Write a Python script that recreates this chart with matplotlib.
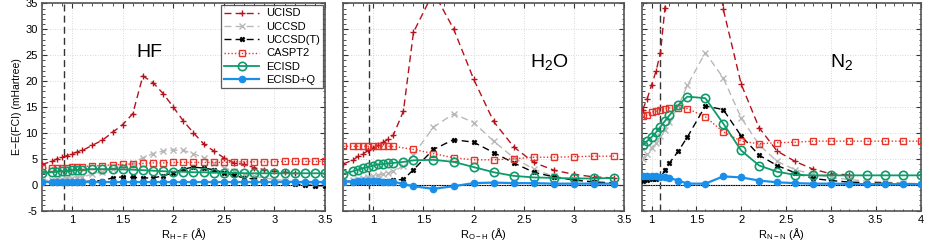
import matplotlib
matplotlib.use("Agg")
import matplotlib.pyplot as plt
from matplotlib.ticker import MultipleLocator, AutoMinorLocator, FormatStrFormatter

plt.rcParams["font.family"] = ["Liberation Sans", "DejaVu Sans"]
plt.rcParams["mathtext.fontset"] = "custom"
plt.rcParams["mathtext.rm"] = "Liberation Sans"
plt.rcParams["axes.unicode_minus"] = False

# ── data: HF ──────────────────────────────────────────────────────────────────
HF_X = [0.7, 0.8, 0.85, 0.9, 0.95, 1.0, 1.05, 1.1, 1.2, 1.3, 1.4, 1.5, 1.6,
        1.7, 1.8, 1.9, 2.0, 2.1, 2.2, 2.3, 2.4, 2.5, 2.6, 2.7, 2.8, 2.9, 3.0,
        3.1, 3.2, 3.3, 3.4, 3.5]
HF_UCISD = [3.9, 4.5, 5.0, 5.3, 5.6, 6.0, 6.3, 6.6, 7.6, 8.6, 10.1, 11.6, 13.7,
            21.0, 19.7, 17.6, 15.0, 12.3, 10.0, 7.9, 6.5, 5.2, 4.2, 3.9, 3.3,
            2.9, 2.6, 2.4, 2.3]
HF_UCCSD = [0.8, 0.9, 1.0, 1.1, 1.2, 1.3, 1.4, 1.5, 2.0, 2.5, 3.0, 3.5, 4.2,
            5.2, 6.0, 6.5, 6.7, 6.6, 6.0, 5.2, 4.2, 3.3, 2.6, 2.0, 1.6, 1.3,
            1.0, 0.8, 0.6, 0.3, 0.2, 0.1]
HF_UCCSDT = [0.5, 0.5, 0.5, 0.5, 0.5, 0.5, 0.5, 0.6, 0.7, 0.8, 1.3, 1.5, 1.4,
             1.3, 1.3, 1.7, 2.3, 3.0, 3.4, 3.2, 2.9, 2.3, 1.8, 1.3, 1.1, 0.8,
             0.45, 0.3, 0.1, 0.0, -0.2, -0.2]
HF_CASPT2 = [3.2, 3.2, 3.3, 3.3, 3.3, 3.4, 3.4, 3.5, 3.6, 3.7, 3.8, 3.9, 4.0,
             4.1, 4.2, 4.2, 4.3, 4.3, 4.3, 4.3, 4.3, 4.3, 4.4, 4.4, 4.4, 4.4,
             4.4, 4.5, 4.5, 4.5, 4.5, 4.5]
HF_ECISD = [2.2, 2.4, 2.5, 2.6, 2.7, 2.8, 2.85, 2.9, 3.0, 3.0, 3.0, 2.95, 2.9,
            2.8, 2.7, 2.6, 2.5, 2.5, 2.4, 2.4, 2.3, 2.3, 2.3, 2.2, 2.2, 2.2,
            2.2, 2.2, 2.2, 2.2, 2.2, 2.2]
HF_ECISDQ = [0.5, 0.5, 0.5, 0.5, 0.5, 0.5, 0.5, 0.5, 0.5, 0.5, 0.5, 0.5, 0.5,
             0.5, 0.5, 0.5, 0.5, 0.5, 0.5, 0.5, 0.5, 0.5, 0.5, 0.5, 0.5, 0.5,
             0.5, 0.5, 0.5, 0.5, 0.5, 0.5]

# ── data: H2O ─────────────────────────────────────────────────────────────────
W_X = [0.7, 0.8, 0.85, 0.9, 0.95, 1.0, 1.05, 1.1, 1.15, 1.2, 1.3, 1.4, 1.6,
       1.8, 2.0, 2.2, 2.4, 2.6, 2.8, 3.0, 3.2, 3.4]
W_UCISD = [4.0, 4.8, 5.5, 6.0, 6.6, 7.1, 7.6, 8.2, 8.8, 9.6, 14.2, 29.4, 37.2,
           30.1, 20.4, 12.2, 7.3, 4.3, 2.8, 2.0, 1.5, 1.3]
W_UCCSD = [0.6, 0.9, 1.0, 1.2, 1.4, 1.6, 1.8, 2.0, 2.3, 2.6, 3.6, 5.8, 11.1,
           13.7, 12.0, 8.4, 5.2, 3.0, 1.6, 1.0, 0.6, 0.4]
W_UCCSDT = [0.6, 0.6, 0.6, 0.6, 0.7, 0.7, 0.7, 0.8, 0.8, 0.9, 1.0, 2.9, 6.8,
            8.7, 8.2, 6.2, 4.2, 2.4, 1.5, 0.9, 0.5, 0.3]
W_X_CAS = [0.7, 0.8, 0.85, 0.9, 0.95, 1.0, 1.05, 1.1, 1.15, 1.2, 1.4, 1.6, 1.8,
           2.0, 2.2, 2.4, 2.6, 2.8, 3.0, 3.2, 3.4]
W_CASPT2 = [7.4, 7.4, 7.4, 7.4, 7.4, 7.4, 7.4, 7.4, 7.4, 7.4, 6.8, 6.0, 5.2,
            4.8, 4.8, 5.0, 5.3, 5.3, 5.4, 5.5, 5.5]
W_ECISD = [2.1, 2.6, 2.9, 3.2, 3.4, 3.7, 3.9, 4.0, 4.1, 4.2, 4.4, 4.7, 4.8,
           4.4, 3.4, 2.4, 1.7, 1.4, 1.3, 1.2, 1.2, 1.3]
W_ECISDQ = [0.6, 0.6, 0.7, 0.7, 0.7, 0.7, 0.7, 0.6, 0.6, 0.6, 0.1, -0.3, -0.8,
            -0.3, 0.3, 0.4, 0.3, 0.3, 0.2, 0.2, 0.2, 0.2]

# ── data: N2 ──────────────────────────────────────────────────────────────────
N_X = [0.9, 0.95, 1.0, 1.05, 1.1, 1.15, 1.2, 1.3, 1.4, 1.6, 1.8, 2.0, 2.2,
       2.4, 2.6, 2.8, 3.0, 3.2, 3.4, 3.6, 3.8, 4.0]
N_UCISD = [14.5, 16.5, 19.2, 21.9, 25.5, 34.2, 45.0, 60.0, 70.0, 60.0, 33.9,
           19.4, 11.0, 6.5, 4.5, 3.0, 2.1, 1.9]
N_UCCSD = [5.0, 6.0, 7.1, 8.1, 9.4, 10.6, 12.1, 15.2, 19.2, 25.5, 20.6, 12.9,
           7.7, 4.5, 2.9, 2.0, 1.4, 1.0, 0.7, 0.5, 0.3, 0.2]
N_UCCSDT = [0.8, 0.9, 1.0, 1.1, 1.4, 2.8, 4.2, 6.5, 9.2, 15.2, 14.5, 9.4, 5.7,
            3.7, 2.3, 1.2, 0.8, 0.5, 0.4, 0.3, 0.2, 0.1]
N_CASPT2 = [13.2, 13.5, 14.0, 14.2, 14.5, 14.6, 14.8, 14.8, 14.7, 13.1, 10.2,
            8.4, 7.9, 8.1, 8.2, 8.4, 8.4, 8.4, 8.4, 8.4, 8.4, 8.4]
N_ECISD = [7.6, 8.4, 9.2, 10.1, 11.2, 12.3, 13.4, 15.4, 17.0, 16.7, 11.8, 6.6,
           3.7, 2.5, 1.9, 1.8, 1.8, 1.8, 1.8, 1.8, 1.8, 1.8]
N_ECISDQ = [1.6, 1.6, 1.6, 1.6, 1.5, 1.5, 1.3, 0.8, 0.2, 0.2, 1.6, 1.4, 0.8,
            0.45, 0.3, 0.2, 0.2, 0.15, 0.1, 0.1, 0.1, 0.1]

LABELS = ["UCISD", "UCCSD", "UCCSD(T)", "CASPT2", "ECISD", "ECISD+Q"]

# ── styles ────────────────────────────────────────────────────────────────────
STY = {
    "UCISD":    dict(color="#b5121b", ls=(0, (5, 3)), lw=1.0, marker="+", ms=5, mew=1.0),
    "UCCSD":    dict(color="#b8b8b8", ls=(0, (5, 3)), lw=1.0, marker="x", ms=4, mew=1.0),
    "UCCSD(T)": dict(color="#000000", ls=(0, (5, 3)), lw=1.0, marker="X", ms=3.5, mew=0.5),
    "CASPT2":   dict(color="#e8352c", ls=(0, (1, 1.5)), lw=1.0, marker="s", ms=4.5,
                     mfc="none", mew=1.0),
    "ECISD":    dict(color="#0f9a6a", ls="-", lw=1.3, marker="o", ms=6, mfc="none",
                     mew=1.2),
    "ECISD+Q":  dict(color="#1a8fea", ls="-", lw=1.6, marker="o", ms=4.5, mew=1.0),
}

panels = [
    dict(x={"UCISD": HF_X, "UCCSD": HF_X, "UCCSD(T)": HF_X, "CASPT2": HF_X,
            "ECISD": HF_X, "ECISD+Q": HF_X},
         y={"UCISD": HF_UCISD, "UCCSD": HF_UCCSD, "UCCSD(T)": HF_UCCSDT,
            "CASPT2": HF_CASPT2, "ECISD": HF_ECISD, "ECISD+Q": HF_ECISDQ},
         xlim=(0.7, 3.5), req=0.917, name="HF", npos=(1.76, 25.5),
         xlabel=r"R$_{\mathrm{H-F}}$ (Å)"),
    dict(x={"UCISD": W_X, "UCCSD": W_X, "UCCSD(T)": W_X, "CASPT2": W_X_CAS,
            "ECISD": W_X, "ECISD+Q": W_X},
         y={"UCISD": W_UCISD, "UCCSD": W_UCCSD, "UCCSD(T)": W_UCCSDT,
            "CASPT2": W_CASPT2, "ECISD": W_ECISD, "ECISD+Q": W_ECISDQ},
         xlim=(0.7, 3.5), req=0.958, name=r"H$_2$O", npos=(2.76, 23.5),
         xlabel=r"R$_{\mathrm{O-H}}$ (Å)"),
    dict(x={"UCISD": N_X, "UCCSD": N_X, "UCCSD(T)": N_X, "CASPT2": N_X,
            "ECISD": N_X, "ECISD+Q": N_X},
         y={"UCISD": N_UCISD, "UCCSD": N_UCCSD, "UCCSD(T)": N_UCCSDT,
            "CASPT2": N_CASPT2, "ECISD": N_ECISD, "ECISD+Q": N_ECISDQ},
         xlim=(0.89, 4.0), req=1.098, name=r"N$_2$", npos=(3.12, 23.5),
         xlabel=r"R$_{\mathrm{N-N}}$ (Å)"),
]

# ── canvas ────────────────────────────────────────────────────────────────────
fig = plt.figure(figsize=(9.27, 2.44), dpi=100)
fig.patch.set_facecolor("white")
BOT, TOP = 0.137, 0.986
LEFTS = [0.045, 0.3703, 0.6922]
RIGHTS = [0.3506, 0.6731, 0.993]

for i, p in enumerate(panels):
    ax = fig.add_axes([LEFTS[i], BOT, RIGHTS[i] - LEFTS[i], TOP - BOT])
    ax.axhline(0, color="black", lw=0.8, zorder=1)
    ax.axvline(p["req"], color="#333333", lw=1.0, ls=(0, (5, 3)), zorder=1)
    for lab in LABELS:
        xs = p["x"][lab]
        ys = p["y"][lab]
        ax.plot(xs[:len(ys)], ys, label=lab, zorder=3, clip_on=True, **STY[lab])
    ax.set_xlim(*p["xlim"])
    ax.set_ylim(-5, 35)
    ax.yaxis.set_major_locator(MultipleLocator(5))
    ax.xaxis.set_major_locator(MultipleLocator(0.5))
    ax.xaxis.set_major_formatter(FormatStrFormatter("%g"))
    ax.xaxis.set_minor_locator(AutoMinorLocator(5))
    ax.yaxis.set_minor_locator(AutoMinorLocator(5))
    ax.grid(True, which="major", color="#cccccc", ls=(0, (1, 2)), lw=0.6)
    ax.tick_params(which="both", direction="in", top=True, right=True,
                   labelsize=8, colors="#333333", labelcolor="black", pad=3)
    ax.tick_params(which="major", length=3.5)
    ax.tick_params(which="minor", length=1.8)
    for s in ax.spines.values():
        s.set_color("#555555")
        s.set_linewidth(1.2)
    ax.set_xlabel(p["xlabel"], fontsize=8, labelpad=1)
    ax.text(*p["npos"], p["name"], fontsize=14, ha="center", va="center")
    if i == 0:
        ax.set_ylabel("E\u2212E(FCI) (mHartree)", fontsize=7.5, labelpad=2)
        leg = ax.legend(loc="upper right", fontsize=8, handlelength=3.2,
                        borderaxespad=0.15, frameon=True, fancybox=False,
                        labelspacing=0.3, borderpad=0.3, handletextpad=0.6)
        leg.get_frame().set_edgecolor("#333333")
        leg.get_frame().set_linewidth(0.9)
    else:
        ax.set_yticklabels([])

fig.savefig("out.png", dpi=100, facecolor="white")
